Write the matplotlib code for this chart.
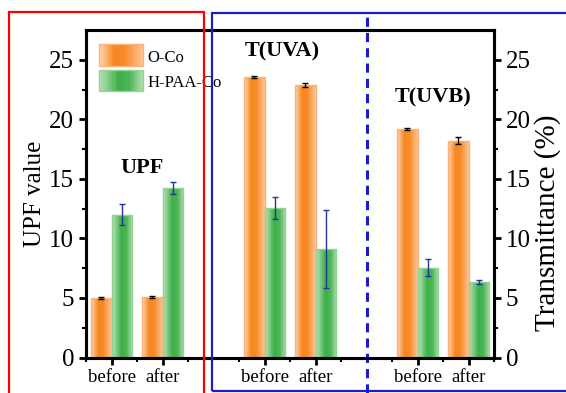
import matplotlib
matplotlib.use('Agg')
import matplotlib.pyplot as plt
import numpy as np
from matplotlib.colors import LinearSegmentedColormap
from matplotlib.patches import Rectangle
from matplotlib.legend_handler import HandlerBase

plt.rcParams['font.family'] = ['Liberation Serif', 'DejaVu Serif']

# data
groups = ['UPF', 'T(UVA)', 'T(UVB)']
tick_labels = ['before', 'after'] * 3
x_pos = np.array([1, 2, 4, 5, 7, 8])
oco = [5.0, 5.1, 23.55, 22.9, 19.2, 18.2]
oco_err = [0.08, 0.08, 0.1, 0.15, 0.1, 0.3]
hpaa = [12.0, 14.2, 12.55, 9.1, 7.55, 6.35]
hpaa_err = [0.85, 0.5, 0.9, 3.3, 0.7, 0.2]
group_text_x = [1.59, 4.34, 7.3]
group_text_y = [15.9, 25.7, 21.8]

orange_cm = LinearSegmentedColormap.from_list(
    'og', [(0, '#fdd5b4'), (0.35, '#f7861f'), (0.6, '#f88c2a'), (1, '#fcc597')])
green_cm = LinearSegmentedColormap.from_list(
    'gr', [(0, '#b8e2b8'), (0.45, '#3daf49'), (0.7, '#4db657'), (1, '#b3ddb3')])
grad = np.linspace(0, 1, 64).reshape(1, -1)

fig = plt.figure(figsize=(5.66, 3.93), dpi=100)
ax = fig.add_axes([0.152, 0.0903, 0.721, 0.8334])

w = 0.4


def grad_bars(xs, hs, cmap, edge):
    bars = ax.bar(xs, hs, width=w, facecolor='none', edgecolor=edge,
                  linewidth=1, zorder=3)
    for b in bars:
        x0, y0 = b.get_x(), b.get_y()
        ax.imshow(grad, cmap=cmap, aspect='auto', zorder=2,
                  extent=[x0, x0 + b.get_width(), y0, y0 + b.get_height()])
    return bars


grad_bars(x_pos - 0.2, oco, orange_cm, '#fdb27a')
grad_bars(x_pos + 0.2, hpaa, green_cm, '#92d292')
ax.errorbar(x_pos - 0.2, oco, yerr=oco_err, fmt='none', ecolor='black',
            elinewidth=1, capsize=2.5, capthick=1, zorder=4)
ax.errorbar(x_pos + 0.2, hpaa, yerr=hpaa_err, fmt='none', ecolor='#23349a',
            elinewidth=1, capsize=2.5, capthick=1, zorder=4)

for g, gx, gy in zip(groups, group_text_x, group_text_y):
    ax.text(gx, gy, g, ha='center', va='center', fontweight='bold',
            fontsize=16)

ax.set_xlim(0.5, 8.5)
ax.set_ylim(0, 27.5)
ax.set_xticks(x_pos)
ax.set_xticklabels(tick_labels, fontsize=13.5)
ax.set_xticks(np.arange(0.5, 8.6, 1), minor=True)
ax.set_yticks(np.arange(0, 26, 5))
ax.set_yticks(np.arange(0, 27.5, 2.5), minor=True)
ax.tick_params(axis='y', labelsize=18, width=2, length=5)
ax.tick_params(axis='y', which='minor', width=1.5, length=3)
ax.tick_params(axis='x', width=2, length=5, pad=3)
ax.tick_params(axis='x', which='minor', width=1.5, length=3)
ax.set_ylabel('UPF value', fontsize=18, labelpad=2)
for s in ax.spines.values():
    s.set_linewidth(2.2)

ax2 = ax.twinx()
ax2.set_ylim(0, 27.5)
ax2.set_yticks(np.arange(0, 26, 5))
ax2.set_yticks(np.arange(0, 27.5, 2.5), minor=True)
ax2.tick_params(axis='y', labelsize=18, width=2, length=5)
ax2.tick_params(axis='y', which='minor', width=1.5, length=3)
ax2.set_ylabel('Transmittance (%)', fontsize=21)
ax2.yaxis.set_label_coords(1.098, 0.41)
for s in ax2.spines.values():
    s.set_linewidth(2.2)


class GradHandler(HandlerBase):
    def __init__(self, cmap, edge):
        super().__init__()
        self.cmap = cmap
        self.edge = edge

    def create_artists(self, legend, orig, xd, yd, width, height, fontsize, trans):
        n = 24
        grow = 0.35 * height
        y0 = yd - grow
        hh = height + 2 * grow
        arts = []
        for i in range(n):
            arts.append(Rectangle((xd + width * i / n, y0), width / n + 0.3, hh,
                                  facecolor=self.cmap((i + 0.5) / n),
                                  edgecolor='none', transform=trans))
        arts.append(Rectangle((xd, y0), width, hh, facecolor='none',
                              edgecolor=self.edge, lw=1, transform=trans))
        return arts


h1 = Rectangle((0, 0), 1, 1)
h2 = Rectangle((0, 0), 1, 1)
ax.legend([h1, h2], ['O-Co', 'H-PAA-Co'], loc='upper left',
          bbox_to_anchor=(0.0, 0.98), frameon=False, fontsize=12,
          handlelength=2.6, handleheight=0.8, labelspacing=0.55,
          handletextpad=0.3, borderaxespad=0.4,
          handler_map={h1: GradHandler(orange_cm, '#fdb27a'),
                       h2: GradHandler(green_cm, '#92d292')})

# dashed separator between UVA and UVB panels
ax.axvline(6, ymin=-0.108, ymax=1.052, color='#1a1ad6', lw=2.2,
           ls=(0, (3, 2)), clip_on=False, zorder=5)

# outer boxes
fig.patches.append(Rectangle((9 / 566, -0.05), 195 / 566, 1.05 - 12 / 393,
                             transform=fig.transFigure, fill=False,
                             edgecolor='#ff0000', lw=1.6))
fig.patches.append(Rectangle((212 / 566, 2 / 393), 360 / 566, 1 - 15 / 393,
                             transform=fig.transFigure, fill=False,
                             edgecolor='#1c1cc8', lw=1.6))

fig.savefig('out.png', dpi=100)
